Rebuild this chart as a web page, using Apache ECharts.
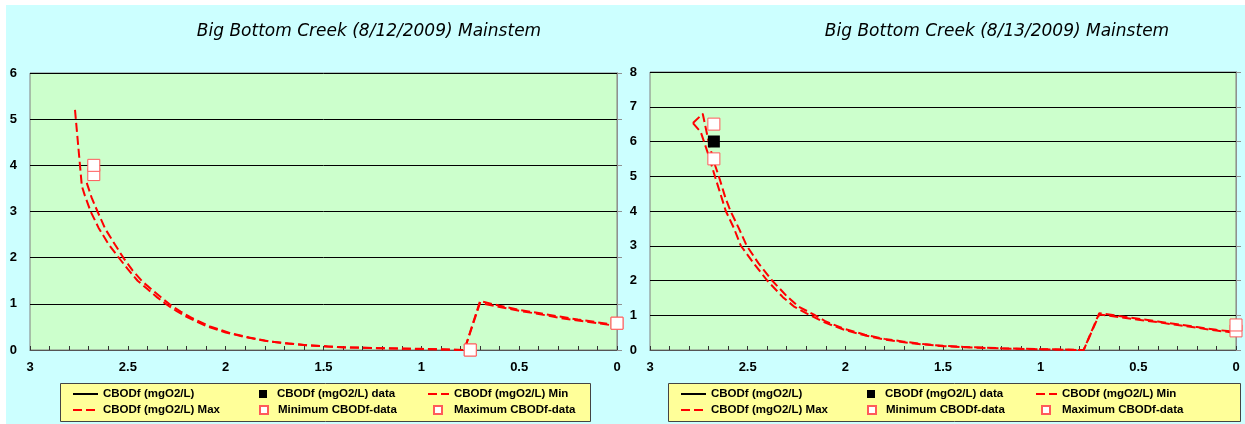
<!DOCTYPE html>
<html>
<head>
<meta charset="utf-8">
<script src="https://cdn.jsdelivr.net/npm/echarts@6/dist/echarts.min.js"></script>
<style>
  html, body { margin: 0; padding: 0; background: #ffffff; }
  #chart { width: 1245px; height: 424px; }
</style>
</head>
<body>
<div id="chart"></div>
<script>
// Chart titles
const titles = ['Big Bottom Creek (8/12/2009) Mainstem', 'Big Bottom Creek (8/13/2009) Mainstem'];

// Series names (shared by both panels)
const seriesNames = [
  'CBODf (mgO2/L)', 'CBODf (mgO2/L) data', 'CBODf (mgO2/L) Min',
  'CBODf (mgO2/L) Max', 'Minimum CBODf-data', 'Maximum CBODf-data'
];

// Axis ranges
const xRange = [0, 3];
const yMaxLeft = 6;
const yMaxRight = 8;

// ---- 8/12/2009 : [distance, CBODf] ----
const modelLeft = [];
const dataLeft = [];
const minLeft = [
  [2.71, 3.62], [2.685, 3.3], [2.655, 3.0], [2.615, 2.62], [2.565, 2.28], [2.52, 1.98],
  [2.475, 1.72], [2.425, 1.48], [2.375, 1.3], [2.325, 1.12], [2.28, 0.97], [2.23, 0.83],
  [2.18, 0.71], [2.08, 0.51], [1.98, 0.37], [1.88, 0.27], [1.78, 0.19], [1.68, 0.14],
  [1.58, 0.1], [1.48, 0.075], [1.38, 0.055], [1.18, 0.035], [0.98, 0.02], [0.78, 0.0],
  [0.70, 1.02], [0.6, 0.93], [0.5, 0.85], [0.4, 0.78], [0.3, 0.7], [0.2, 0.64], [0.1, 0.58],
  [0.0, 0.52]
];
const maxLeft = [
  [2.77, 5.2], [2.735, 3.55], [2.72, 3.35], [2.69, 3.0], [2.65, 2.65], [2.60, 2.3],
  [2.55, 2.02], [2.50, 1.75], [2.45, 1.5], [2.40, 1.32], [2.35, 1.14], [2.30, 0.98],
  [2.25, 0.84], [2.20, 0.72], [2.10, 0.52], [2.00, 0.38], [1.90, 0.28], [1.80, 0.2],
  [1.70, 0.15], [1.60, 0.11], [1.50, 0.08], [1.40, 0.06], [1.20, 0.04], [1.00, 0.025],
  [0.78, 0.0], [0.70, 1.06], [0.60, 0.96], [0.50, 0.87], [0.40, 0.8], [0.30, 0.73],
  [0.20, 0.66], [0.10, 0.6], [0.00, 0.54]
];
const minDataLeft = [[2.674, 3.8], [0.75, 0.0], [0.0, 0.58]];
const maxDataLeft = [[2.674, 4.0], [0.75, 0.0], [0.0, 0.58]];

// ---- 8/13/2009 : [distance, CBODf] ----
const modelRight = [];
const dataRight = [[2.673, 6.0]];
const minRight = [
  [2.78, 6.53], [2.74, 6.27], [2.70, 5.6], [2.665, 4.95], [2.612, 4.0], [2.57, 3.5],
  [2.535, 3.0], [2.47, 2.5], [2.40, 2.0], [2.32, 1.52], [2.26, 1.24], [2.18, 1.0],
  [2.1, 0.78], [2.0, 0.57], [1.9, 0.42], [1.8, 0.3], [1.7, 0.22], [1.6, 0.16],
  [1.5, 0.11], [1.4, 0.08], [1.2, 0.045], [1.0, 0.02], [0.78, 0.0], [0.70, 1.02],
  [0.6, 0.95], [0.5, 0.87], [0.4, 0.8], [0.3, 0.72], [0.2, 0.64], [0.1, 0.56], [0.0, 0.49]
];
const maxRight = [
  [2.78, 6.53], [2.73, 6.8], [2.70, 6.0], [2.675, 5.45], [2.645, 4.95], [2.615, 4.4],
  [2.588, 4.0], [2.545, 3.5], [2.505, 3.0], [2.445, 2.5], [2.375, 2.0], [2.30, 1.55],
  [2.24, 1.25], [2.155, 1.0], [2.10, 0.82], [2.0, 0.6], [1.9, 0.44], [1.8, 0.32],
  [1.7, 0.24], [1.6, 0.17], [1.5, 0.12], [1.4, 0.09], [1.2, 0.05], [1.0, 0.025],
  [0.78, 0.0], [0.70, 1.06], [0.6, 0.98], [0.5, 0.9], [0.4, 0.82], [0.3, 0.74],
  [0.2, 0.66], [0.1, 0.58], [0.0, 0.52]
];
const minDataRight = [[2.673, 5.5], [0.0, 0.55]];
const maxDataRight = [[2.673, 6.5], [0.0, 0.72]];

const panels = [
  { model: modelLeft, data: dataLeft, min: minLeft, max: maxLeft, minD: minDataLeft, maxD: maxDataLeft, yMax: yMaxLeft },
  { model: modelRight, data: dataRight, min: minRight, max: maxRight, minD: minDataRight, maxD: maxDataRight, yMax: yMaxRight }
];

const FONT = 'Arial, "Liberation Sans", sans-serif';
const RED = '#ff0000';
const DASH = [9, 4];
const MARK_BORDER = '#ff5a5a';

const grids = [
  { left: 30, top: 73, width: 587, height: 277 },
  { left: 650, top: 72, width: 586, height: 278 }
];

const xAxes = [], yAxes = [], series = [];
panels.forEach((p, i) => {
  xAxes.push({
    type: 'value', gridIndex: i, min: xRange[0], max: xRange[1], interval: 0.5, inverse: true,
    axisLine: { lineStyle: { color: '#555', width: 1 } },
    axisTick: { inside: true, length: 4, lineStyle: { color: '#333' } },
    minorTick: { show: true, splitNumber: 5, length: 4, lineStyle: { color: '#333' } },
    splitLine: { show: false },
    axisLabel: { color: '#000', fontWeight: 'bold', fontSize: 13, fontFamily: FONT, margin: 11 }
  });
  yAxes.push({
    type: 'value', gridIndex: i, min: 0, max: p.yMax, interval: 1,
    axisLine: { show: true, lineStyle: { color: '#808080' } },
    axisTick: { show: false },
    splitLine: { show: true, lineStyle: { color: '#000', width: 1 } },
    axisLabel: { color: '#000', fontWeight: 'bold', fontSize: 13, fontFamily: FONT, margin: 13 }
  });
  yAxes.push({
    type: 'value', gridIndex: i, min: 0, max: p.yMax, interval: 1, position: 'right',
    axisLine: { show: true, lineStyle: { color: '#909090' } },
    axisTick: { show: true, length: 5, lineStyle: { color: '#909090' } },
    splitLine: { show: false },
    axisLabel: { show: false }
  });
  const yi = i * 2;
  series.push(
    { name: seriesNames[0], type: 'line', xAxisIndex: i, yAxisIndex: yi, data: p.model, symbol: 'none',
      lineStyle: { color: '#000', width: 3 }, itemStyle: { color: '#000' } },
    { name: seriesNames[1], type: 'scatter', xAxisIndex: i, yAxisIndex: yi, data: p.data, symbol: 'rect',
      symbolSize: 12, itemStyle: { color: '#000', opacity: 1 }, z: 5 },
    { name: seriesNames[2], type: 'line', xAxisIndex: i, yAxisIndex: yi, data: p.min, symbol: 'none',
      lineStyle: { color: RED, width: 2, type: DASH }, itemStyle: { color: RED } },
    { name: seriesNames[3], type: 'line', xAxisIndex: i, yAxisIndex: yi, data: p.max, symbol: 'none',
      lineStyle: { color: RED, width: 2, type: DASH }, itemStyle: { color: RED } },
    { name: seriesNames[4], type: 'scatter', xAxisIndex: i, yAxisIndex: yi, data: p.minD, symbol: 'rect',
      symbolSize: 12, clip: false, itemStyle: { color: '#fff', borderColor: MARK_BORDER, borderWidth: 1, opacity: 1 }, z: 4 },
    { name: seriesNames[5], type: 'scatter', xAxisIndex: i, yAxisIndex: yi, data: p.maxD, symbol: 'rect',
      symbolSize: 12, clip: false, itemStyle: { color: '#fff', borderColor: MARK_BORDER, borderWidth: 1, opacity: 1 }, z: 4 }
  );
});

// Legend: one component per entry, laid out in 2 rows x 3 columns inside each panel box
const legendSlots = [
  { name: seriesNames[0], dx: 72, row: 0, w: 25, h: 10, pad: 0, line: true },
  { name: seriesNames[1], dx: 259, row: 0, w: 8, h: 8, pad: 5, line: false },
  { name: seriesNames[2], dx: 427, row: 0, w: 21, h: 10, pad: 0, line: true },
  { name: seriesNames[3], dx: 72, row: 1, w: 25, h: 10, pad: 0, line: true },
  { name: seriesNames[4], dx: 259, row: 1, w: 8, h: 8, pad: 5, line: false },
  { name: seriesNames[5], dx: 433, row: 1, w: 8, h: 8, pad: 7, line: false }
];
const legendBoxes = [{ x: 60, y: 383, w: 530, h: 38, off: 0 }, { x: 668, y: 383, w: 572, h: 38, off: 608 }];
const rowCenters = [395, 411];
const legends = [];
legendBoxes.forEach(b => {
  legendSlots.forEach(s => {
    const lg = {
      data: [s.name], left: s.dx + b.off, top: rowCenters[s.row] - 7, padding: 0, itemGap: 0,
      itemWidth: s.w, itemHeight: s.h, selectedMode: false,
      textStyle: { color: '#000', fontWeight: 'bold', fontSize: 11.5, fontFamily: FONT, padding: [0, 0, 0, s.pad] }
    };
    if (s.line) lg.itemStyle = { opacity: 0 };
    legends.push(lg);
  });
});

const titleStyle = { fontFamily: '"DejaVu Sans", Verdana, sans-serif', fontStyle: 'italic', fontWeight: 'normal', fontSize: 17, color: '#000' };

const chart = echarts.init(document.getElementById('chart'), null, { renderer: 'canvas' });
chart.setOption({
  backgroundColor: '#ffffff',
  animation: false,
  graphic: [
    { type: 'rect', z: -10, shape: { x: 6, y: 5, width: 1239, height: 419 }, style: { fill: '#ccffff' } },
    ...legendBoxes.map(b => ({ type: 'rect', z: -5, shape: { x: b.x + 0.5, y: b.y + 0.5, width: b.w, height: b.h },
      style: { fill: '#ffff99', stroke: '#444', lineWidth: 1 } }))
  ],
  title: [
    { text: titles[0], left: 364, top: 18, textAlign: 'center', textStyle: titleStyle },
    { text: titles[1], left: 992, top: 18, textAlign: 'center', textStyle: titleStyle }
  ],
  grid: grids.map(g => Object.assign({ show: true, backgroundColor: '#ccffcc', borderColor: '#808080', borderWidth: 1, containLabel: false }, g)),
  xAxis: xAxes,
  yAxis: yAxes,
  legend: legends,
  series: series
});
</script>
</body>
</html>
